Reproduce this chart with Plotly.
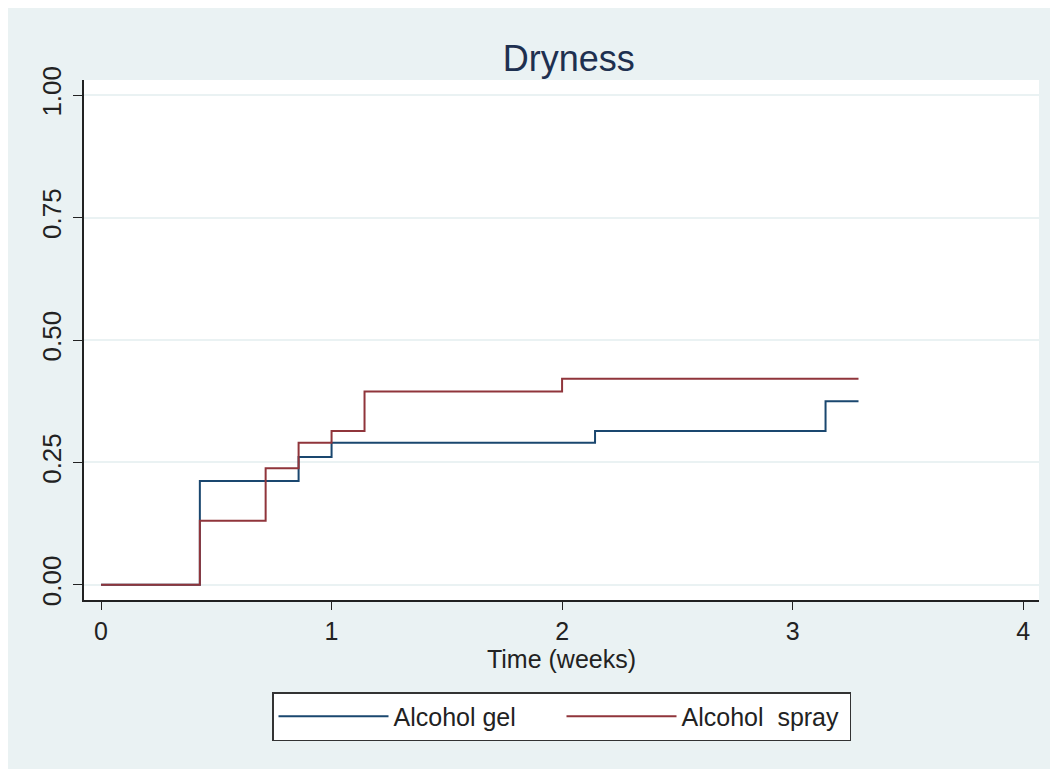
import plotly.graph_objects as go

# Data (cumulative failure, step functions)
gel_t = [0, 0.4286, 0.857, 1.0, 2.143, 3.143, 3.286]
gel_y = [0, 0.212, 0.261, 0.290, 0.314, 0.375, 0.375]
spray_t = [0, 0.4286, 0.714, 0.857, 1.0, 1.143, 2.0, 3.286]
spray_y = [0, 0.131, 0.238, 0.290, 0.314, 0.395, 0.421, 0.421]

series_names = ["Alcohol gel", "Alcohol  spray"]
series_colors = ["#1a476f", "#90353b"]
x_ticks = [0, 1, 2, 3, 4]
y_ticks = [0, 0.25, 0.5, 0.75, 1.0]
y_ticklabels = ["0.00", "0.25", "0.50", "0.75", "1.00"]

FONT = "Liberation Sans, Arial, sans-serif"
BG = "#eaf2f3"

fig = go.Figure()
for t, y, name, col in [(gel_t, gel_y, series_names[0], series_colors[0]),
                        (spray_t, spray_y, series_names[1], series_colors[1])]:
    fig.add_trace(go.Scatter(x=t, y=y, mode="lines", name=name,
                             line=dict(color=col, width=2, shape="hv")))

fig.update_layout(
    width=1058, height=769,
    paper_bgcolor=BG, plot_bgcolor="white",
    margin=dict(l=76, r=27, t=72, b=177),
    font=dict(family=FONT, size=25, color="#222222"),
    title=dict(text="Dryness", x=0.53, xanchor="center", y=0.935, yanchor="middle",
               font=dict(size=36, color="#1e3050")),
    xaxis=dict(range=[-0.074, 4.069], tickvals=x_ticks, showgrid=False, zeroline=False,
               showline=True, linecolor="#222222", linewidth=1.5,
               ticks="outside", ticklen=8, tickcolor="#222222",
               title=dict(text="Time (weeks)", standoff=4, font=dict(size=25))),
    yaxis=dict(range=[-0.031, 1.031], tickvals=y_ticks, ticktext=y_ticklabels,
               tickangle=-90, showgrid=True, gridcolor=BG, gridwidth=1.5, zeroline=False,
               showline=True, linecolor="#222222", linewidth=1.5,
               ticks="outside", ticklen=9, tickcolor="#222222", ticklabelstandoff=2,
               tickfont=dict(size=26)),
    legend=dict(orientation="h", x=0.5, xanchor="center", y=-0.177, yanchor="top",
                bgcolor="white", bordercolor="#333333", borderwidth=1.5,
                font=dict(size=25), itemwidth=110, entrywidth=163),
)

fig.write_html("out.html")
